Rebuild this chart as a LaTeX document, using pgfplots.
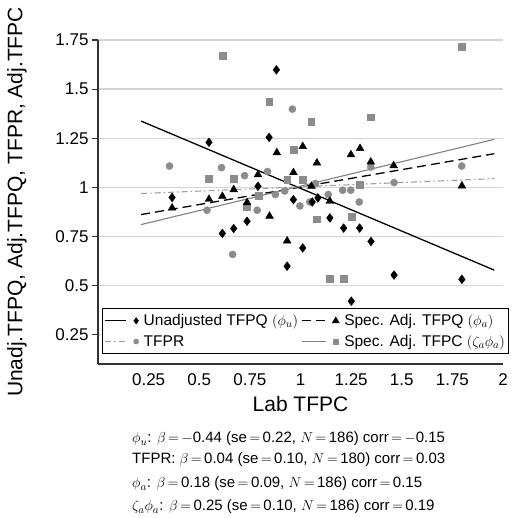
\documentclass[border=0pt]{standalone}
\usepackage{pgfplots}
\pgfplotsset{compat=1.18}
\usepackage{fontspec}
\setmainfont{Liberation Sans}
\definecolor{mgray}{gray}{0.55}
\definecolor{lgray}{gray}{0.62}
\definecolor{sgray}{gray}{0.5}
\begin{document}
\begin{tikzpicture}[x=1pt,y=1pt]
\path[use as bounding box] (0,0) rectangle (518,518);
\begin{axis}[
  at={(98pt,154pt)}, anchor=south west,
  scale only axis, width=405pt, height=324pt,
  xmin=0, xmax=2, ymin=0.1, ymax=1.75,
  axis x line*=bottom, axis y line*=left,
  axis line style={black!80, line width=1.1pt, -},
  xtick={0.25,0.5,0.75,1,1.25,1.5,1.75,2},
  xticklabels={0.25,0.5,0.75,1,1.25,1.5,1.75,2},
  ytick={0.25,0.5,0.75,1,1.25,1.5,1.75},
  yticklabels={0.25,0.5,0.75,1,1.25,1.5,1.75},
  x tick style={draw=none},
  y tick style={black!80, line width=1.1pt},
  tick align=outside, major tick length=6pt,
  ymajorgrids, grid style={black!17, line width=1.2pt},
  tick label style={font=\fontsize{17}{20}\selectfont},
  ylabel={Unadj.TFPQ, Adj.TFPQ, TFPR, Adj.TFPC},
  ylabel style={font=\fontsize{21}{24}\selectfont, at={(axis description cs:-0.2,0.5)}, anchor=center},
  xlabel={Lab TFPC},
  xlabel style={font=\fontsize{21}{24}\selectfont, at={(axis description cs:0.5,-0.123)}, anchor=center},
  legend columns=2,
  legend cell align=left,
  legend style={at={(axis description cs:0.01,0.173)}, anchor=north west, draw=black, line width=1pt,
    font=\fontsize{15.5}{18}\selectfont, inner xsep=2pt, inner ysep=4pt, row sep=4pt,
    /tikz/every odd column/.append style={column sep=3pt},
    /tikz/every even column/.append style={column sep=1pt}},
]
% legend images
\addlegendimage{legend image code/.code={\draw[black,line width=1.2pt](0pt,0pt)--(21pt,0pt);
  \draw[black,fill=black,line width=0.4pt,mark=diamond*,mark size=3.2pt,only marks] plot coordinates{(31pt,0pt)};}}
\addlegendentry{Unadjusted TFPQ $(\phi_u)$}
\addlegendimage{legend image code/.code={\draw[black,line width=1.2pt,dash pattern=on 9pt off 5pt](0pt,0pt)--(24pt,0pt);
  \draw[black,fill=black,line width=0.4pt,mark=triangle*,mark size=4pt,only marks,solid] plot coordinates{(34pt,0pt)};}}
\addlegendentry{Spec. Adj. TFPQ $(\phi_a)$}
\addlegendimage{legend image code/.code={\draw[lgray,line width=1pt,dash pattern=on 6pt off 3pt on 1.5pt off 3pt](0pt,0pt)--(21pt,0pt);
  \draw[mgray,fill=mgray,line width=0.4pt,mark=*,mark size=2.6pt,only marks,solid] plot coordinates{(31pt,0pt)};}}
\addlegendentry{TFPR}
\addlegendimage{legend image code/.code={\draw[sgray,line width=1pt](0pt,0pt)--(24pt,0pt);
  \draw[mgray,fill=mgray,line width=0.4pt,mark=square*,mark size=2.6pt,only marks] plot coordinates{(34pt,0pt)};}}
\addlegendentry{Spec. Adj. TFPC $(\zeta_a\phi_a)$}

% Spec. Adj. TFPC (squares)
\addplot[only marks, mark=square*, mark size=3.4pt, color=mgray, forget plot] coordinates {
(0.615,1.671) (0.845,1.437) (1.053,1.332) (0.967,1.19) (0.548,1.044) (0.67,1.044)
(0.934,1.039) (1.011,1.039) (0.736,0.903) (1.347,1.357) (1.796,1.717) (0.794,0.959)
(1.294,1.015) (1.081,0.837) (1.251,0.849) (1.145,0.536) (1.214,0.536)};
% TFPR (circles)
\addplot[only marks, mark=*, mark size=3.6pt, color=mgray, forget plot] coordinates {
(0.96,1.398) (0.353,1.108) (0.61,1.10) (0.724,1.059) (0.837,1.08) (0.538,0.883)
(0.786,0.883) (0.665,0.658) (1.347,1.103) (1.796,1.108) (0.876,0.963) (0.922,0.981)
(0.997,0.905) (1.046,0.925) (1.074,1.019) (1.137,0.963) (1.208,0.985) (1.248,0.985)
(1.29,0.925) (1.462,1.024)};
% Unadjusted TFPQ (diamonds)
\addplot[only marks, mark=diamond*, mark size=4.4pt, color=black, forget plot] coordinates {
(0.881,1.598) (0.548,1.229) (0.845,1.254) (0.79,1.005) (0.366,0.948) (0.736,0.827)
(0.67,0.79) (0.614,0.765) (0.965,0.937) (1.058,0.925) (1.086,0.946) (1.145,0.844)
(1.213,0.792) (1.292,0.792) (1.348,0.724) (1.011,0.691) (0.934,0.598) (1.251,0.42)
(1.462,0.553) (1.797,0.531)};
% Spec. Adj. TFPQ (triangles)
\addplot[only marks, mark=triangle*, mark size=4.5pt, color=black, forget plot] coordinates {
(0.883,1.176) (1.011,1.208) (0.79,1.064) (0.965,1.075) (0.366,0.895) (0.548,0.939)
(0.614,0.954) (0.67,0.988) (0.736,0.922) (1.294,1.198) (1.249,1.166) (1.081,1.124)
(1.347,1.129) (1.46,1.11) (0.847,0.853) (1.054,1.005) (1.145,0.929) (0.934,0.727)
(1.797,1.007)};

% fitted lines
\addplot[black, line width=1.3pt, forget plot] coordinates {(0.213,1.337) (1.957,0.578)};
\addplot[black, line width=1.3pt, dash pattern=on 9pt off 5pt, forget plot] coordinates {(0.213,0.861) (1.957,1.171)};
\addplot[sgray, line width=1.1pt, forget plot] coordinates {(0.213,0.81) (1.957,1.244)};
\addplot[lgray, line width=1.1pt, dash pattern=on 6pt off 3pt on 1.5pt off 3pt, forget plot] coordinates {(0.213,0.968) (1.957,1.044)};
\end{axis}
\begin{scope}[font=\fontsize{15}{18}\selectfont]
\node[anchor=base west, inner sep=0pt] at (132,75) {$\phi_u$: $\beta\,{=}\,{-}$0.44 (se$\,{=}\,$0.22, $N\,{=}\,$186) corr$\,{=}\,{-}$0.15};
\node[anchor=base west, inner sep=0pt] at (132,54) {TFPR: $\beta\,{=}\,$0.04 (se$\,{=}\,$0.10, $N\,{=}\,$180) corr$\,{=}\,$0.03};
\node[anchor=base west, inner sep=0pt] at (132,30) {$\phi_a$: $\beta\,{=}\,$0.18 (se$\,{=}\,$0.09, $N\,{=}\,$186) corr$\,{=}\,$0.15};
\node[anchor=base west, inner sep=0pt] at (132,7) {$\zeta_a\phi_a$: $\beta\,{=}\,$0.25 (se$\,{=}\,$0.10, $N\,{=}\,$186) corr$\,{=}\,$0.19};
\end{scope}
\end{tikzpicture}
\end{document}
